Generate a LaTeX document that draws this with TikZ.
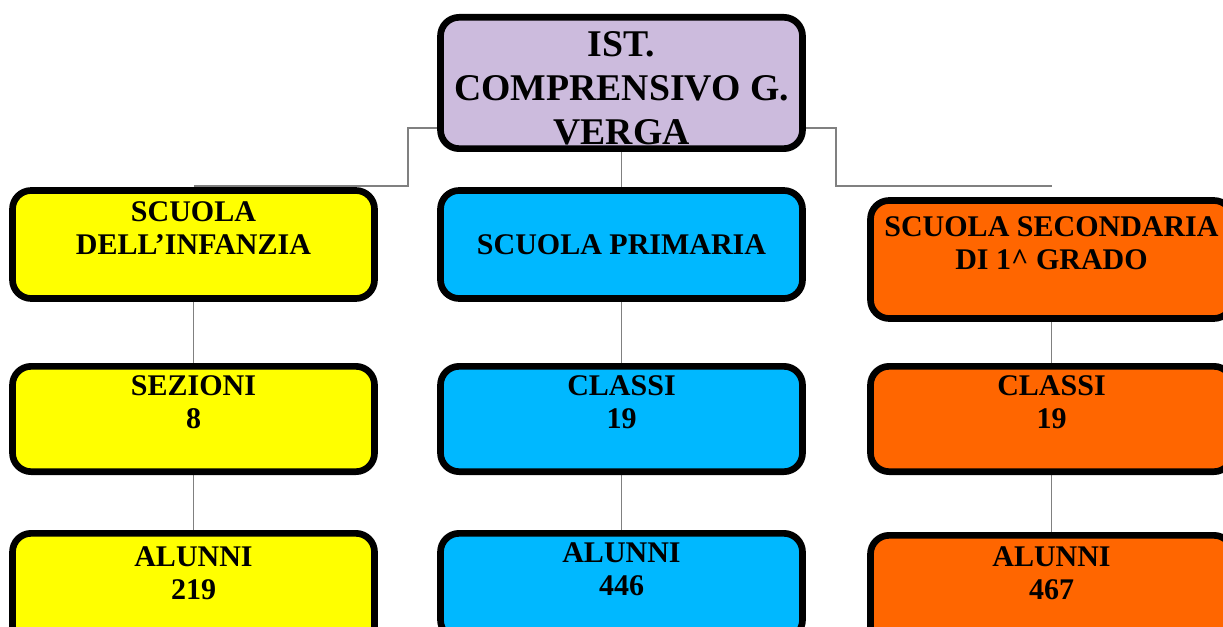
\documentclass[tikz,border=0pt]{standalone}
\usepackage{fontspec}
\setmainfont{Liberation Serif}
\usetikzlibrary{positioning,backgrounds}

\definecolor{lilla}{RGB}{204,187,221}
\definecolor{giallo}{RGB}{255,255,0}
\definecolor{azzurro}{RGB}{0,184,255}
\definecolor{arancio}{RGB}{255,102,0}

\begin{document}
\begin{tikzpicture}[x=0.75pt,y=-0.75pt,
  box/.style={draw=black, line width=5pt, rounded corners=14pt,
    minimum width=271.5pt, align=center, inner sep=0pt,
    font=\fontsize{22.5}{24.75}\selectfont\bfseries},
  link/.style={draw=gray, line width=1.1pt}]
  \useasboundingbox (0,0) rectangle (1223,627);
  \clip (0,0) rectangle (1223,627);

  % Columns
  \def\xa{193.5}
  \def\xb{621.5}
  \def\xc{1051.5}

  % Top box
  \node[box, fill=lilla, minimum height=98.5pt,
        font=\fontsize{28.3}{33}\selectfont\bfseries] (ist) at (\xb,83)
        {\rule{0pt}{26pt}IST.\\COMPRENSIVO G.\\VERGA};

  % First row
  \node[box, fill=giallo, minimum height=81pt] (infanzia) at (\xa,244.5)
        {SCUOLA\\DELL’INFANZIA\\\mbox{}};
  \node[box, fill=azzurro, minimum height=81pt] (primaria) at (\xb,244.5)
        {SCUOLA PRIMARIA};
  \node[box, fill=arancio, minimum height=88.5pt] (secondaria) at (\xc,259.5)
        {SCUOLA SECONDARIA\\DI 1\textasciicircum\ GRADO\\\mbox{}};

  % Second row
  \node[box, fill=giallo, minimum height=79pt] (sezioni) at (\xa,419)
        {SEZIONI\\8\\\mbox{}};
  \node[box, fill=azzurro, minimum height=79pt] (classiP) at (\xb,419)
        {CLASSI\\19\\\mbox{}};
  \node[box, fill=arancio, minimum height=79pt] (classiS) at (\xc,419)
        {CLASSI\\19\\\mbox{}};

  % Third row
  \node[box, fill=giallo, minimum height=85pt] (alunniI) at (\xa,590)
        {ALUNNI\\219\\\mbox{}};
  \node[box, fill=azzurro, minimum height=79pt] (alunniP) at (\xb,586)
        {ALUNNI\\446\\\mbox{}};
  \node[box, fill=arancio, minimum height=82pt] (alunniS) at (\xc,590)
        {ALUNNI\\467\\\mbox{}};

  % Connectors behind the boxes
  \begin{scope}[on background layer]
    \draw[link] (ist.west |- 0,128) -| (408,186) -- (infanzia.north |- 0,186);
    \draw[link] (ist.east |- 0,128) -| (836,186) -- (secondaria.north |- 0,186);
    \draw[link] (ist) -- (primaria);
    \draw[link] (infanzia) -- (sezioni) -- (alunniI);
    \draw[link] (primaria) -- (classiP) -- (alunniP);
    \draw[link] (secondaria) -- (classiS) -- (alunniS);
  \end{scope}
\end{tikzpicture}
\end{document}
